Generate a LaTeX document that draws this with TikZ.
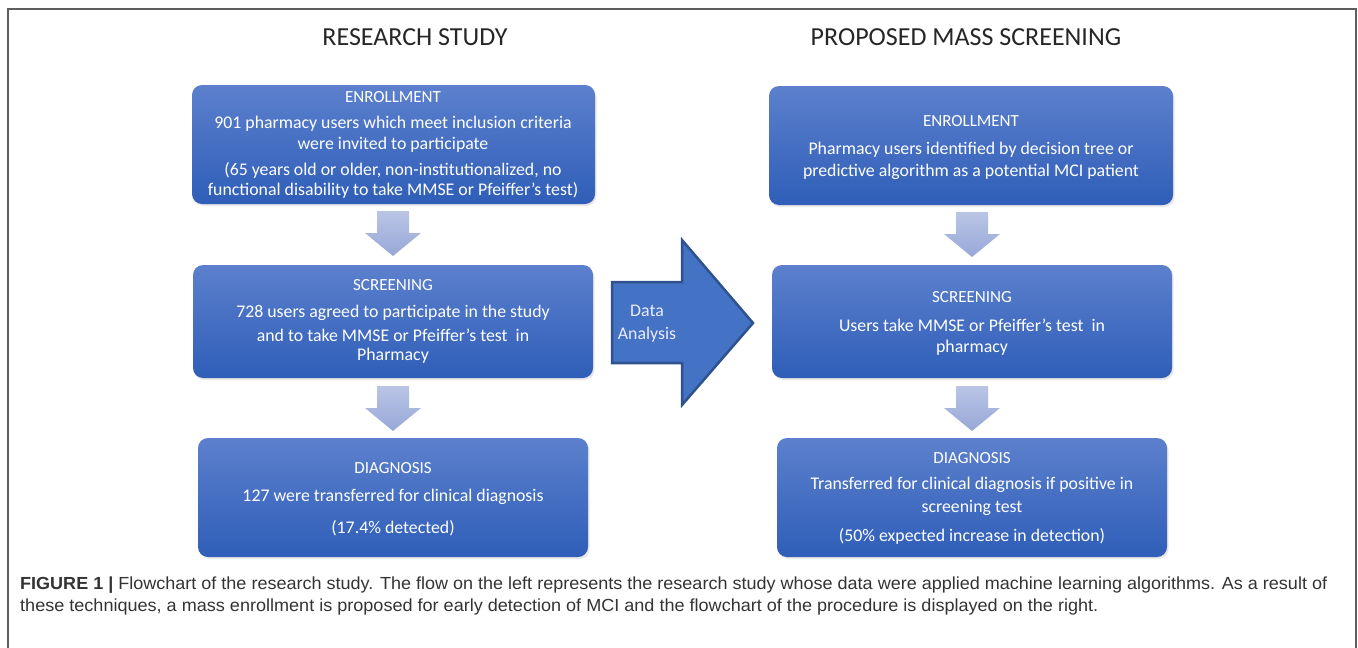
\documentclass[tikz,border=0pt]{standalone}
\usepackage{fontspec}
\usepackage{graphicx}
\setmainfont{Carlito}
\newfontfamily\capfont{Liberation Sans}
\usetikzlibrary{shadows,calc}
\definecolor{boxtop}{HTML}{5C80CD}
\definecolor{boxbot}{HTML}{2F5EB8}
\definecolor{arrtop}{HTML}{BAC5E5}
\definecolor{arrbot}{HTML}{97A8D8}
\definecolor{bigfill}{HTML}{4472C4}
\definecolor{bigline}{HTML}{2F528F}
\definecolor{framec}{HTML}{5E5E5E}
\definecolor{capc}{HTML}{333333}
\tikzset{
  flowbox/.style={draw=none, rounded corners=10pt, top color=boxtop, bottom color=boxbot,
    drop shadow={opacity=0.18, shadow xshift=1.5pt, shadow yshift=-2pt}},
  head/.style={text=white, font=\fontsize{17}{20}\selectfont, anchor=center, inner sep=0pt},
  body/.style={text=white, font=\fontsize{17.8}{21}\selectfont, anchor=center, inner sep=0pt},
  title/.style={text=black!85, font=\fontsize{26}{30}\selectfont, anchor=center, inner sep=0pt},
  blockdown/.style={draw=none, top color=arrtop, bottom color=arrbot},
  bigarrow/.style={fill=bigfill, draw=bigline, line width=2.5pt, line join=miter},
  captext/.style={anchor=base west, inner sep=0pt, text=capc, font=\capfont\fontsize{17.5}{20}\selectfont},
}
\begin{document}
\begin{tikzpicture}[x=1pt,y=-1pt]
\useasboundingbox (0,0) rectangle (1358,648);
% frame
\draw[framec, line width=2pt] (7.5,648) -- (7.5,8.5) -- (1355.5,8.5) -- (1355.5,648);
% titles
\node[title] (tl) at (415,37) {RESEARCH STUDY};
\node[title] (tr) at (966,37) {PROPOSED MASS SCREENING};
% left boxes
\path[flowbox] (192,85) rectangle (595,204);
\path[flowbox] (193,265) rectangle (593,378);
\path[flowbox] (198,438) rectangle (588,557);
% right boxes
\path[flowbox] (769,86) rectangle (1173,205);
\path[flowbox] (772,265) rectangle (1172,378);
\path[flowbox] (777,438) rectangle (1167,557);
% left texts
\node[head] (le0) at (393,97) {ENROLLMENT};
\node[body] (le1) at (393,124) {901 pharmacy users which meet inclusion criteria};
\node[body] (le2) at (393,145) {were invited to participate};
\node[body] (le3) at (393,170) {(65 years old or older, non-institutionalized, no};
\node[body] (le4) at (393,190) {functional disability to take MMSE or Pfeiffer’s test)};
\node[head] (ls0) at (393,285) {SCREENING};
\node[body] (ls1) at (393,313) {728 users agreed to participate in the study};
\node[body] (ls2) at (393,335) {and to take MMSE or Pfeiffer’s test\ \ in};
\node[body] (ls3) at (393,356) {Pharmacy};
\node[head] (ld0) at (393,468) {DIAGNOSIS};
\node[body] (ld1) at (393,497) {127 were transferred for clinical diagnosis};
\node[body] (ld2) at (393,528) {(17.4\% detected)};
% right texts
\node[head] (re0) at (971,121) {ENROLLMENT};
\node[body] (re1) at (971,150) {Pharmacy users identified by decision tree or};
\node[body] (re2) at (971,172) {predictive algorithm as a potential MCI patient};
\node[head] (rs0) at (972,297) {SCREENING};
\node[body] (rs1) at (972,325) {Users take MMSE or Pfeiffer’s test\ \ in};
\node[body] (rs2) at (972,348) {pharmacy};
\node[head] (rd0) at (972,458) {DIAGNOSIS};
\node[body] (rd1) at (972,485) {Transferred for clinical diagnosis if positive in};
\node[body] (rd2) at (972,508) {screening test};
\node[body] (rd3) at (972,536) {(50\% expected increase in detection)};
% down block arrows
\foreach \cx/\ty in {393/211, 393/386, 972/212, 972/386}{
  \path[blockdown] (\cx-16,\ty) -- (\cx+16,\ty) -- (\cx+16,\ty+22) -- (\cx+28,\ty+22)
     -- (\cx,\ty+45) -- (\cx-28,\ty+22) -- (\cx-16,\ty+22) -- cycle;
}
% big arrow
\draw[bigarrow] (612,282) -- (682,282) -- (682,240) -- (753,323) -- (682,405) -- (682,363) -- (612,363) -- cycle;
\node[body, align=center, text=white!92!blue] (da) at (647,324) {Data\\[2pt]Analysis};
% caption
\node[captext] (cap1) at (20,589)
  {\resizebox{1307pt}{\height}{\textbf{FIGURE 1 |} Flowchart of the research study. The flow on the left represents the research study whose data were applied machine learning algorithms. As a result of}};
\node[captext] (cap2) at (20,611)
  {\resizebox{1078pt}{\height}{these techniques, a mass enrollment is proposed for early detection of MCI and the flowchart of the procedure is displayed on the right.}};
\end{tikzpicture}
\end{document}
